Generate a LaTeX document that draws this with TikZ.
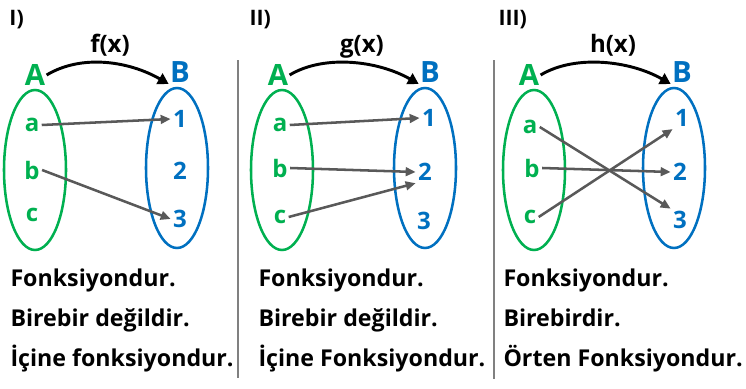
\documentclass[tikz,border=0pt]{standalone}
\usepackage{fontspec}
\setmainfont{Open Sans}
\usetikzlibrary{arrows.meta}

\definecolor{setgreen}{RGB}{0,176,80}
\definecolor{setblue}{RGB}{0,112,192}
\definecolor{mapgray}{RGB}{89,89,89}
\definecolor{sepgray}{RGB}{128,128,128}

\tikzset{every picture/.style={line width=0.75pt}}
\tikzset{
  setA/.style={draw=setgreen, line width=1.9pt},
  setB/.style={draw=setblue, line width=1.9pt},
  nameA/.style={text=setgreen, inner sep=0.75pt, font=\bfseries\fontsize{22}{22}\selectfont},
  nameB/.style={text=setblue, inner sep=0.75pt, font=\bfseries\fontsize{22}{22}\selectfont},
  elemA/.style={text=setgreen, inner sep=1.5pt, font=\bfseries\fontsize{18}{18}\selectfont},
  elemB/.style={text=setblue, inner sep=1.5pt, font=\bfseries\fontsize{18}{18}\selectfont},
  mapline/.style={draw=mapgray, line width=1.9pt, -{Triangle[length=7.5pt,width=6.5pt]}},
  funcarrow/.style={draw=black, line width=2.2pt, -{Triangle[length=8pt,width=9pt]}},
  sepline/.style={draw=sepgray, line width=1.4pt},
  title/.style={inner sep=0.75pt, font=\bfseries\fontsize{16}{16}\selectfont},
  fname/.style={inner sep=0.75pt, font=\bfseries\fontsize{18}{18}\selectfont},
  note/.style={inner sep=0.75pt, font=\bfseries\fontsize{17.4}{17.4}\selectfont}
}

\begin{document}
\begin{tikzpicture}[x=0.75pt,y=0.75pt,yscale=-1,xscale=1]
\useasboundingbox (0,0) rectangle (746,389);

%Straight Lines [separators]
\draw [sepline] (238,60) -- (238,378) ;
\draw [sepline] (494,60) -- (494,379) ;

%Shape: Ellipse [panel I]
\draw [setA] (35,170) ellipse (31 and 80) ;
\draw [setB] (177,168) ellipse (31 and 80) ;
%Shape: Ellipse [panel II]
\draw [setA] (282,170) ellipse (31 and 80) ;
\draw [setB] (425,168) ellipse (31 and 80) ;
%Shape: Ellipse [panel III]
\draw [setA] (534,170) ellipse (31 and 80) ;
\draw [setB] (674,168) ellipse (31 and 80) ;

% Text Node
\draw (8,25) node [title, anchor=base west] (fT) {I)};
% Text Node
\draw (248,25) node [title, anchor=base west] (gT) {II)};
% Text Node
\draw (497,25) node [title, anchor=base west] (hT) {III)};
% Text Node
\draw (110,52) node [fname, anchor=base] (fN) {f(x)};
% Text Node
\draw (362,52) node [fname, anchor=base] (gN) {g(x)};
% Text Node
\draw (613,52) node [fname, anchor=base] (hN) {h(x)};

% Text Node
\draw (35,75) node [nameA] (fA) {A};
\draw (180,72) node [nameB] (fB) {B};
\draw (278,75) node [nameA] (gA) {A};
\draw (430,72) node [nameB] (gB) {B};
\draw (529,75) node [nameA] (hA) {A};
\draw (682,72) node [nameB] (hB) {B};

% Text Node
\draw (32,125) node [elemA] (fa) {a};
\draw (32,170) node [elemA] (fb) {b};
\draw (32,215) node [elemA] (fc) {c};
\draw (180,119) node [elemB] (f1) {1};
\draw (180,171) node [elemB] (f2) {2};
\draw (180,219) node [elemB] (f3) {3};
% Text Node
\draw (280,125) node [elemA] (ga) {a};
\draw (280,168) node [elemA] (gb) {b};
\draw (280,217) node [elemA] (gc) {c};
\draw (429,118) node [elemB] (g1) {1};
\draw (425,172) node [elemB] (g2) {2};
\draw (424,221) node [elemB] (g3) {3};
% Text Node
\draw (530,127) node [elemA] (ha) {a};
\draw (532,168) node [elemA] (hb) {b};
\draw (530,217) node [elemA] (hc) {c};
\draw (682,118) node [elemB] (h1) {1};
\draw (680,172) node [elemB] (h2) {2};
\draw (680,220) node [elemB] (h3) {3};

%Curve Lines
\draw [funcarrow] (fA.east) .. controls +(35,-21) and +(-40,-23) .. (fB.south west) ;
\draw [funcarrow] (gA.east) .. controls +(35,-21) and +(-40,-23) .. (gB.south west) ;
\draw [funcarrow] (hA.east) .. controls +(35,-21) and +(-40,-23) .. (hB.south west) ;

%Straight Lines
\draw [mapline] (fa.east) -- (f1.west) ;
\draw [mapline] (fb.east) -- (f3.west) ;
\draw [mapline] (ga.east) -- (g1.west) ;
\draw [mapline] (gb.east) -- (g2.west) ;
\draw [mapline] (gc.east) -- (g2.south west) ;
\draw [mapline] (ha.east) -- (h3.north west) ;
\draw [mapline] (hb.east) -- (h2.west) ;
\draw [mapline] (hc.east) -- (h1.south west) ;

% Text Node
\draw (9,286) node [note, anchor=base west] (fL1) {Fonksiyondur.};
\draw (9,326) node [note, anchor=base west] (fL2) {Birebir değildir.};
\draw (9,366) node [note, anchor=base west] (fL3) {İçine fonksiyondur.};
% Text Node
\draw (257,286) node [note, anchor=base west] (gL1) {Fonksiyondur.};
\draw (257,326) node [note, anchor=base west] (gL2) {Birebir değildir.};
\draw (257,366) node [note, anchor=base west] (gL3) {İçine Fonksiyondur.};
% Text Node
\draw (502,286) node [note, anchor=base west] (hL1) {Fonksiyondur.};
\draw (502,326) node [note, anchor=base west] (hL2) {Birebirdir.};
\draw (502,366) node [note, anchor=base west] (hL3) {Örten Fonksiyondur.};

\end{tikzpicture}
\end{document}
